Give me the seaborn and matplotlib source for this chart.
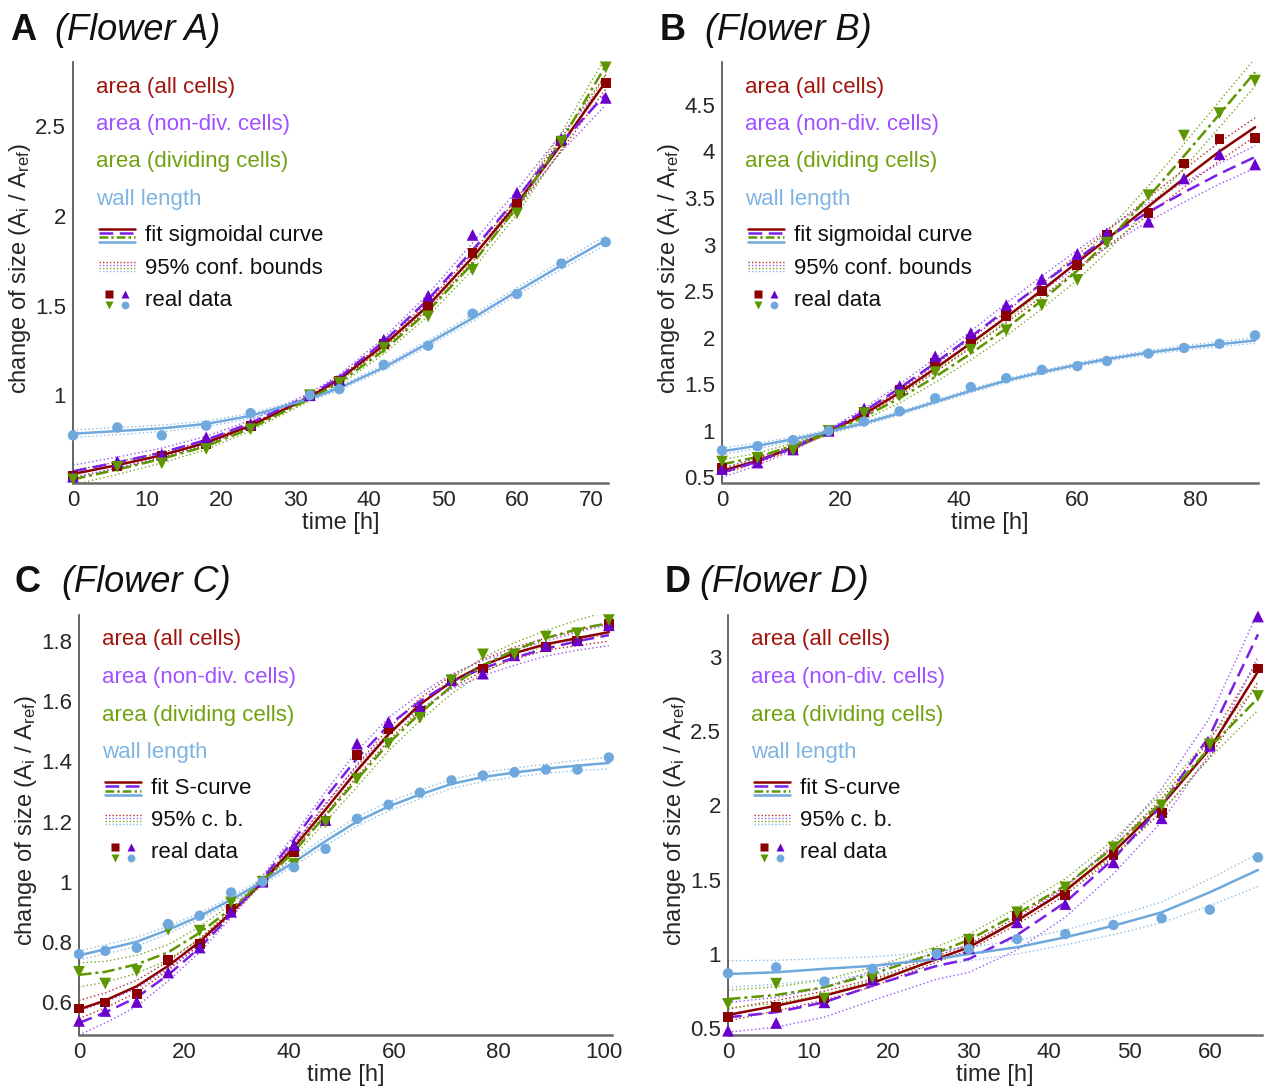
import numpy as np
import pandas as pd
import matplotlib
matplotlib.use("Agg")
import matplotlib.pyplot as plt
import seaborn as sns
from matplotlib.ticker import FuncFormatter

# ---------------- data ----------------
# Panel A (Flower A)
A_time = [0, 6, 12, 18, 24, 32, 36, 42, 48, 54, 60, 66, 72]
A_all = [0.55, 0.605, 0.66, 0.725, 0.83, 1.0, 1.08, 1.285, 1.50, 1.795, 2.07, 2.42, 2.745]
A_nondiv = [0.545, 0.63, 0.67, 0.765, 0.84, 1.0, 1.085, 1.31, 1.555, 1.895, 2.13, 2.43, 2.66]
A_div = [0.53, 0.60, 0.62, 0.70, 0.81, 1.0, 1.07, 1.265, 1.44, 1.70, 2.015, 2.415, 2.83]
A_wall = [0.776, 0.82, 0.776, 0.83, 0.90, 1.0, 1.034, 1.17, 1.276, 1.455, 1.565, 1.735, 1.855]
A_all_fit = [0.56, 0.61, 0.665, 0.735, 0.83, 0.99, 1.09, 1.28, 1.50, 1.77, 2.07, 2.40, 2.75]
A_nondiv_fit = [0.575, 0.625, 0.68, 0.75, 0.845, 1.0, 1.10, 1.30, 1.535, 1.81, 2.10, 2.41, 2.68]
A_div_fit = [0.53, 0.585, 0.645, 0.715, 0.815, 0.98, 1.07, 1.25, 1.47, 1.735, 2.05, 2.42, 2.84]
A_wall_fit = [0.785, 0.80, 0.815, 0.84, 0.885, 0.98, 1.04, 1.155, 1.29, 1.43, 1.58, 1.725, 1.865]
A_all_ci = [0.02, 0.018, 0.015, 0.012, 0.01, 0.008, 0.01, 0.015, 0.02, 0.025, 0.03, 0.035, 0.04]
A_nondiv_ci = [0.035, 0.03, 0.025, 0.02, 0.015, 0.012, 0.015, 0.02, 0.03, 0.04, 0.045, 0.05, 0.06]
A_div_ci = [0.03, 0.027, 0.023, 0.018, 0.014, 0.012, 0.014, 0.02, 0.028, 0.035, 0.04, 0.045, 0.05]
A_wall_ci = [0.02, 0.02, 0.018, 0.016, 0.014, 0.012, 0.012, 0.014, 0.016, 0.018, 0.02, 0.022, 0.025]

# Panel B (Flower B)
B_time = [0, 6, 12, 18, 24, 30, 36, 42, 48, 54, 60, 65, 72, 78, 84, 90]
B_all = [0.60, 0.70, 0.80, 1.0, 1.20, 1.44, 1.73, 1.98, 2.23, 2.50, 2.78, 3.10, 3.34, 3.87, 4.13, 4.14]
B_nondiv = [0.59, 0.66, 0.80, 1.0, 1.24, 1.48, 1.80, 2.05, 2.35, 2.63, 2.90, 3.12, 3.245, 3.71, 3.97, 3.86]
B_div = [0.67, 0.71, 0.79, 1.0, 1.19, 1.38, 1.63, 1.87, 2.08, 2.35, 2.62, 3.02, 3.53, 4.17, 4.41, 4.76]
B_wall = [0.79, 0.835, 0.90, 1.0, 1.10, 1.21, 1.35, 1.47, 1.565, 1.655, 1.695, 1.75, 1.83, 1.89, 1.935, 2.025]
B_all_fit = [0.57, 0.68, 0.82, 0.99, 1.18, 1.41, 1.67, 1.94, 2.22, 2.51, 2.81, 3.06, 3.41, 3.71, 4.00, 4.26]
B_nondiv_fit = [0.55, 0.67, 0.82, 1.0, 1.21, 1.46, 1.73, 2.01, 2.30, 2.58, 2.85, 3.07, 3.35, 3.56, 3.76, 3.94]
B_div_fit = [0.64, 0.72, 0.84, 0.98, 1.15, 1.35, 1.58, 1.83, 2.10, 2.40, 2.72, 3.03, 3.51, 3.95, 4.40, 4.85]
B_wall_fit = [0.78, 0.84, 0.91, 0.99, 1.08, 1.19, 1.31, 1.43, 1.54, 1.63, 1.71, 1.77, 1.84, 1.89, 1.93, 1.97]
B_all_ci = [0.03, 0.025, 0.02, 0.015, 0.02, 0.03, 0.04, 0.05, 0.06, 0.07, 0.08, 0.085, 0.09, 0.095, 0.1, 0.1]
B_nondiv_ci = [0.05, 0.04, 0.03, 0.02, 0.03, 0.04, 0.05, 0.06, 0.07, 0.08, 0.09, 0.095, 0.1, 0.105, 0.11, 0.12]
B_div_ci = [0.05, 0.04, 0.03, 0.02, 0.03, 0.05, 0.06, 0.07, 0.08, 0.09, 0.1, 0.11, 0.12, 0.13, 0.14, 0.15]
B_wall_ci = [0.035, 0.03, 0.025, 0.02, 0.02, 0.02, 0.02, 0.02, 0.02, 0.02, 0.02, 0.02, 0.022, 0.025, 0.028, 0.03]

# Panel C (Flower C)
C_time = [0, 5, 11, 17, 23, 29, 35, 41, 47, 53, 59, 65, 71, 77, 83, 89, 95, 101]
C_all = [0.578, 0.598, 0.626, 0.74, 0.794, 0.909, 1.0, 1.098, 1.203, 1.42, 1.507, 1.567, 1.67, 1.709, 1.756, 1.78, 1.80, 1.856]
C_nondiv = [0.537, 0.57, 0.60, 0.698, 0.781, 0.90, 1.0, 1.122, 1.205, 1.459, 1.531, 1.581, 1.67, 1.692, 1.753, 1.785, 1.803, 1.853]
C_div = [0.70, 0.661, 0.703, 0.84, 0.837, 0.931, 1.0, 1.059, 1.198, 1.342, 1.459, 1.545, 1.67, 1.756, 1.756, 1.815, 1.826, 1.87]
C_wall = [0.759, 0.77, 0.78, 0.859, 0.887, 0.964, 1.0, 1.048, 1.109, 1.209, 1.256, 1.296, 1.337, 1.353, 1.364, 1.373, 1.373, 1.413]
C_all_fit = [0.575, 0.605, 0.652, 0.72, 0.80, 0.897, 1.0, 1.115, 1.24, 1.37, 1.49, 1.59, 1.665, 1.72, 1.76, 1.79, 1.81, 1.83]
C_nondiv_fit = [0.53, 0.565, 0.615, 0.69, 0.78, 0.89, 1.01, 1.14, 1.28, 1.41, 1.52, 1.60, 1.665, 1.71, 1.745, 1.775, 1.80, 1.82]
C_div_fit = [0.69, 0.70, 0.725, 0.765, 0.83, 0.91, 1.0, 1.10, 1.22, 1.34, 1.46, 1.56, 1.65, 1.72, 1.77, 1.81, 1.84, 1.86]
C_wall_fit = [0.755, 0.775, 0.80, 0.84, 0.885, 0.94, 1.0, 1.065, 1.135, 1.20, 1.25, 1.29, 1.325, 1.348, 1.363, 1.376, 1.386, 1.395]
C_all_ci = [0.03, 0.025, 0.02, 0.015, 0.01, 0.008, 0.008, 0.01, 0.015, 0.02, 0.02, 0.02, 0.02, 0.02, 0.02, 0.02, 0.025, 0.03]
C_nondiv_ci = [0.04, 0.035, 0.03, 0.02, 0.015, 0.01, 0.01, 0.015, 0.02, 0.025, 0.025, 0.025, 0.025, 0.025, 0.025, 0.025, 0.03, 0.035]
C_div_ci = [0.04, 0.035, 0.03, 0.025, 0.02, 0.015, 0.01, 0.015, 0.02, 0.025, 0.025, 0.025, 0.025, 0.025, 0.025, 0.025, 0.03, 0.04]
C_wall_ci = [0.015, 0.015, 0.015, 0.012, 0.01, 0.01, 0.01, 0.012, 0.015, 0.015, 0.015, 0.015, 0.015, 0.015, 0.015, 0.015, 0.017, 0.02]

# Panel D (Flower D)
D_time = [0, 6, 12, 18, 26, 30, 36, 42, 48, 54, 60, 66]
D_all = [0.574, 0.646, 0.70, 0.84, 1.0, 1.078, 1.258, 1.397, 1.664, 1.95, 2.40, 2.92]
D_nondiv = [0.484, 0.536, 0.675, 0.83, 1.0, 1.04, 1.213, 1.336, 1.617, 1.913, 2.40, 3.27]
D_div = [0.664, 0.80, 0.70, 0.84, 1.0, 1.096, 1.28, 1.448, 1.717, 2.0, 2.41, 2.735]
D_wall = [0.87, 0.91, 0.814, 0.90, 1.0, 1.034, 1.10, 1.134, 1.195, 1.24, 1.298, 1.65]
D_all_fit = [0.59, 0.652, 0.72, 0.805, 0.966, 1.045, 1.224, 1.426, 1.686, 2.0, 2.38, 2.90]
D_nondiv_fit = [0.574, 0.608, 0.675, 0.787, 0.92, 0.966, 1.128, 1.347, 1.639, 2.0, 2.47, 3.15]
D_div_fit = [0.697, 0.724, 0.776, 0.865, 1.01, 1.094, 1.27, 1.46, 1.717, 2.02, 2.39, 2.72]
D_wall_fit = [0.865, 0.877, 0.90, 0.92, 0.966, 1.0, 1.045, 1.112, 1.19, 1.28, 1.415, 1.565]
D_all_ci = [0.04, 0.035, 0.03, 0.025, 0.02, 0.02, 0.025, 0.03, 0.035, 0.045, 0.055, 0.07]
D_nondiv_ci = [0.1, 0.1, 0.1, 0.1, 0.09, 0.09, 0.1, 0.1, 0.1, 0.11, 0.12, 0.15]
D_div_ci = [0.06, 0.055, 0.05, 0.045, 0.04, 0.04, 0.04, 0.045, 0.05, 0.06, 0.07, 0.08]
D_wall_ci = [0.09, 0.08, 0.07, 0.06, 0.05, 0.045, 0.045, 0.05, 0.06, 0.07, 0.09, 0.11]

# text
series_names = ["area (all cells)", "area (non-div. cells)", "area (dividing cells)", "wall length"]
panel_letters = ["A", "B", "C", "D"]
panel_titles = ["(Flower A)", "(Flower B)", "(Flower C)", "(Flower D)"]
fit_labels = ["fit sigmoidal curve", "fit sigmoidal curve", "fit S-curve", "fit S-curve"]
ci_labels = ["95% conf. bounds", "95% conf. bounds", "95% c. b.", "95% c. b."]
data_label = "real data"
xlabel_text = "time [h]"
ylabel_text = r"change of size (A$_\mathregular{i}$ / A$_\mathregular{ref}$)"

# ---------------- styles / layout ----------------
FIG_W, FIG_H = 1266, 1088
KEYS = ["all", "nondiv", "div", "wall"]
C_MARK = {"all": "#8B0000", "nondiv": "#6A00CC", "div": "#5E9600", "wall": "#6FA8DC"}
C_LINE = {"all": "#8B0000", "nondiv": "#7A1FE6", "div": "#5E9600", "wall": "#6FA8DC"}
C_CI = {"all": "#B02A2A", "nondiv": "#9A55F0", "div": "#7AAA20", "wall": "#8DBCE6"}
C_TEXT = {"all": "#A0140C", "nondiv": "#A050FF", "div": "#6FA20E", "wall": "#80B4E2"}
LS = {"all": "-", "nondiv": (0, (5.5, 2.6)), "div": (0, (5, 1.6, 1.2, 1.6)), "wall": "-"}
MK = {"all": "s", "nondiv": "^", "div": "v", "wall": "o"}
MS = {"all": 50, "nondiv": 72, "div": 72, "wall": 56}

sns.set_theme(style="white")
plt.rcParams["font.family"] = ["Liberation Sans", "DejaVu Sans"]
plt.rcParams["mathtext.default"] = "regular"

fig = plt.figure(figsize=(FIG_W / 100, FIG_H / 100), dpi=100)

# axes rectangles in pixels: left, top, right, bottom
rects = [(73, 62, 608, 483), (722, 62, 1258, 483), (79, 615, 612, 1035), (728, 615, 1262, 1035)]
xlims = [(0, 72.3), (0, 90.5), (0, 101.6), (0, 66.5)]
ylims = [(0.51, 2.86), (0.44, 4.96), (0.49, 1.887), (0.455, 3.28)]
xticks = [np.arange(0, 71, 10), np.arange(0, 81, 20), np.arange(0, 101, 20), np.arange(0, 61, 10)]
yticks = [[1, 1.5, 2, 2.5], [0.5, 1, 1.5, 2, 2.5, 3, 3.5, 4, 4.5],
          [0.6, 0.8, 1, 1.2, 1.4, 1.6, 1.8], [0.5, 1, 1.5, 2, 2.5, 3]]
title_pos = [(10, 55, 30), (660, 705, 30), (15, 62, 583), (665, 700, 583)]

panels = {
    "A": (A_time, [A_all, A_nondiv, A_div, A_wall], [A_all_fit, A_nondiv_fit, A_div_fit, A_wall_fit],
          [A_all_ci, A_nondiv_ci, A_div_ci, A_wall_ci]),
    "B": (B_time, [B_all, B_nondiv, B_div, B_wall], [B_all_fit, B_nondiv_fit, B_div_fit, B_wall_fit],
          [B_all_ci, B_nondiv_ci, B_div_ci, B_wall_ci]),
    "C": (C_time, [C_all, C_nondiv, C_div, C_wall], [C_all_fit, C_nondiv_fit, C_div_fit, C_wall_fit],
          [C_all_ci, C_nondiv_ci, C_div_ci, C_wall_ci]),
    "D": (D_time, [D_all, D_nondiv, D_div, D_wall], [D_all_fit, D_nondiv_fit, D_div_fit, D_wall_fit],
          [D_all_ci, D_nondiv_ci, D_div_ci, D_wall_ci]),
}

fmt = FuncFormatter(lambda v, p: "%g" % v)

for i, letter in enumerate(panel_letters):
    l, t, r, b = rects[i]
    ax = fig.add_axes([l / FIG_W, 1 - b / FIG_H, (r - l) / FIG_W, (b - t) / FIG_H])
    aw, ah = r - l, b - t

    def ax_xy(dx, dy):
        return dx / aw, 1 - dy / ah

    tt, vals, fits, cis = panels[letter]
    for k, fit, ci in zip(KEYS, fits, cis):
        df = pd.DataFrame({"t": tt, "fit": fit, "ci": ci})
        df["lo"] = df["fit"] - df["ci"]
        df["hi"] = df["fit"] + df["ci"]
        for col in ["lo", "hi"]:
            sns.lineplot(data=df, x="t", y=col, ax=ax, color=C_CI[k], lw=1.0,
                         linestyle=(0, (1, 1.8)), estimator=None, sort=False, zorder=2)
    for k, fit in zip(KEYS, fits):
        df = pd.DataFrame({"t": tt, "fit": fit})
        sns.lineplot(data=df, x="t", y="fit", ax=ax, color=C_LINE[k], lw=1.8,
                     linestyle=LS[k], estimator=None, sort=False, zorder=3)
    for k, v in zip(KEYS, vals):
        df = pd.DataFrame({"t": tt, "v": v})
        sns.scatterplot(data=df, x="t", y="v", ax=ax, marker=MK[k], s=MS[k], color=C_MARK[k],
                        edgecolor="none", linewidth=0, clip_on=False, zorder=5)

    ax.set_xlim(*xlims[i])
    ax.set_ylim(*ylims[i])
    ax.set_xticks(xticks[i])
    ax.set_yticks(yticks[i])
    ax.xaxis.set_major_formatter(fmt)
    ax.yaxis.set_major_formatter(fmt)
    for s in ["top", "right"]:
        ax.spines[s].set_visible(False)
    ax.spines["left"].set_color("#4a4a4a")
    ax.spines["left"].set_linewidth(1.2)
    ax.spines["bottom"].set_color("#6b6b6b")
    ax.spines["bottom"].set_linewidth(1.8)
    ax.tick_params(axis="both", direction="in", length=5, width=1.0, color="#3a3a3a",
                   labelsize=16, labelcolor="#262626", pad=5)
    ax.tick_params(axis="x", pad=5)
    ax.set_facecolor("none")
    ax.set_xlabel(xlabel_text, fontsize=17, color="#262626")
    ax.set_ylabel(ylabel_text, fontsize=17, color="#262626")
    ax.xaxis.set_label_coords(0.5, -29 / ah)
    ax.yaxis.set_label_coords(-40 / aw, 0.51)

    # ---- custom legend ----
    tx = 23
    for j, (k, name) in enumerate(zip(KEYS, series_names)):
        ax.text(*ax_xy(tx, 25 + 37.5 * j), name, transform=ax.transAxes, fontsize=16,
                color=C_TEXT[k], va="center", ha="left")
    hx0, hx1, ltx = 26, 62, 72
    for dy, k in zip([167, 171, 175.5, 180], KEYS):
        xa, ya = ax_xy(hx0, dy)
        xb, _ = ax_xy(hx1, dy)
        ax.plot([xa, xb], [ya, ya], transform=ax.transAxes, color=C_LINE[k], lw=1.8,
                linestyle=LS[k] if k != "div" else (0, (3.5, 1.2, 1.0, 1.2)), clip_on=False)
    ax.text(*ax_xy(ltx, 174), fit_labels[i], transform=ax.transAxes, fontsize=16,
            color="#111111", va="center")
    for dy, k in zip([200, 203, 206, 209], KEYS):
        xa, ya = ax_xy(hx0, dy)
        xb, _ = ax_xy(hx1, dy)
        ax.plot([xa, xb], [ya, ya], transform=ax.transAxes, color=C_CI[k], lw=1.0,
                linestyle=(0, (1, 1.5)), clip_on=False)
    ax.text(*ax_xy(ltx, 206), ci_labels[i], transform=ax.transAxes, fontsize=16,
            color="#111111", va="center")
    for (dx, dy), k in zip([(36, 232), (52, 232), (36, 243), (52, 243)], KEYS):
        xa, ya = ax_xy(dx, dy)
        ax.plot([xa], [ya], transform=ax.transAxes, marker=MK[k], ms=5.6, color=C_MARK[k],
                mec="none", linestyle="none", clip_on=False)
    ax.text(*ax_xy(ltx, 238), data_label, transform=ax.transAxes, fontsize=16,
            color="#111111", va="center")

    # ---- panel titles ----
    lx, fx, ty = title_pos[i]
    fig.text(lx / FIG_W, 1 - ty / FIG_H, letter, fontsize=26, fontweight="bold",
             va="center", ha="left", color="#111111")
    fig.text(fx / FIG_W, 1 - ty / FIG_H, panel_titles[i], fontsize=26, style="italic",
             va="center", ha="left", color="#111111")

fig.savefig("out.png", dpi=100, facecolor="white")
